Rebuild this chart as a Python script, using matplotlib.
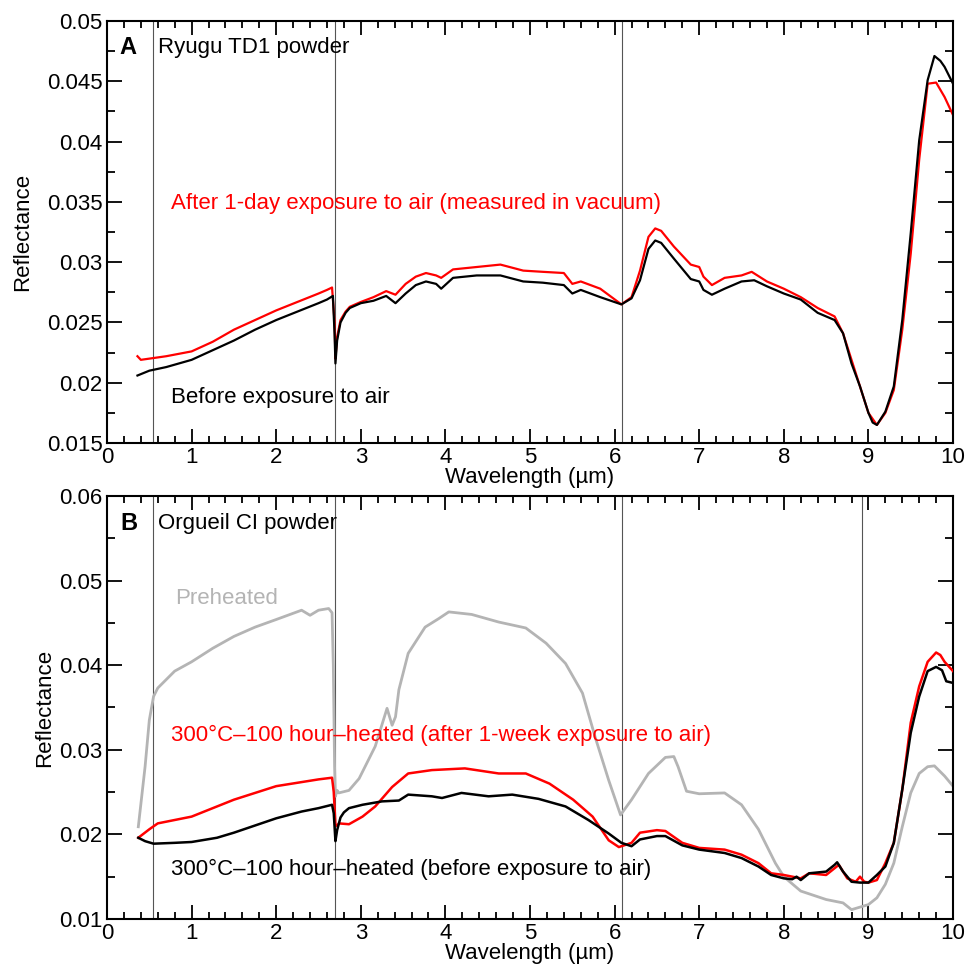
import matplotlib
matplotlib.use("Agg")
import matplotlib.pyplot as plt
from matplotlib.ticker import MultipleLocator, FuncFormatter

plt.rcParams['font.family'] = ['Liberation Sans', 'DejaVu Sans']

# ---- Panel A: Ryugu TD1 powder ----
wl_a_red = [0.36, 0.40, 0.50, 0.70, 1.00, 1.25, 1.50, 1.75, 2.00, 2.25, 2.50, 2.60, 2.66,
            2.69, 2.70, 2.72, 2.76, 2.82, 2.87, 3.00, 3.15, 3.30, 3.41, 3.53, 3.65, 3.77,
            3.89, 3.95, 4.09, 4.37, 4.65, 4.92, 5.15, 5.40, 5.50, 5.60, 5.83, 6.08, 6.20,
            6.30, 6.40, 6.48, 6.55, 6.70, 6.90, 7.00, 7.05, 7.15, 7.30, 7.50, 7.62, 7.80,
            8.00, 8.20, 8.40, 8.60, 8.70, 8.80, 8.90, 9.00, 9.10, 9.20, 9.30, 9.40, 9.50,
            9.60, 9.70, 9.80, 9.90, 10.0]
refl_a_red = [0.0222, 0.0219, 0.0220, 0.0222, 0.0226, 0.0234, 0.0244, 0.0252, 0.0260, 0.0267,
              0.0274, 0.0277, 0.0279, 0.0250, 0.0220, 0.0238, 0.0252, 0.0259, 0.0263, 0.0267,
              0.0271, 0.0276, 0.0273, 0.0282, 0.0288, 0.0291, 0.0289, 0.0287, 0.0294, 0.0296,
              0.0298, 0.0293, 0.0292, 0.0291, 0.0282, 0.0284, 0.0278, 0.0265, 0.0271, 0.0293,
              0.0321, 0.0328, 0.0326, 0.0313, 0.0298, 0.0296, 0.0288, 0.0281, 0.0287, 0.0289,
              0.0292, 0.0284, 0.0278, 0.0271, 0.0262, 0.0255, 0.0241, 0.0219, 0.0197, 0.0175,
              0.0165, 0.0175, 0.0194, 0.0244, 0.0307, 0.0385, 0.0448, 0.0449, 0.0437, 0.0422]

wl_a_black = [0.36, 0.50, 0.70, 1.00, 1.25, 1.50, 1.75, 2.00, 2.25, 2.50, 2.60, 2.67,
              2.69, 2.70, 2.72, 2.76, 2.82, 2.87, 3.00, 3.15, 3.30, 3.41, 3.53, 3.65, 3.77,
              3.89, 3.95, 4.09, 4.37, 4.65, 4.92, 5.15, 5.40, 5.50, 5.60, 5.83, 6.08, 6.20,
              6.30, 6.40, 6.48, 6.55, 6.70, 6.90, 7.00, 7.05, 7.15, 7.30, 7.50, 7.65, 7.80,
              8.00, 8.20, 8.40, 8.60, 8.70, 8.80, 8.90, 9.00, 9.05, 9.10, 9.20, 9.30, 9.40,
              9.50, 9.60, 9.70, 9.78, 9.85, 9.90, 10.0]
refl_a_black = [0.0206, 0.0210, 0.0213, 0.0219, 0.0227, 0.0235, 0.0244, 0.0252, 0.0259, 0.0266,
                0.0269, 0.0272, 0.0240, 0.0216, 0.0235, 0.0250, 0.0258, 0.0262, 0.0266, 0.0268,
                0.0272, 0.0266, 0.0274, 0.0281, 0.0284, 0.0282, 0.0278, 0.0287, 0.0289, 0.0289,
                0.0284, 0.0283, 0.0281, 0.0274, 0.0277, 0.0271, 0.0265, 0.0270, 0.0285, 0.0311,
                0.0318, 0.0316, 0.0303, 0.0286, 0.0284, 0.0277, 0.0273, 0.0278, 0.0284, 0.0285,
                0.0280, 0.0274, 0.0269, 0.0258, 0.0252, 0.0241, 0.0216, 0.0197, 0.0175, 0.0167,
                0.0165, 0.0176, 0.0197, 0.0252, 0.0324, 0.0401, 0.0451, 0.0471, 0.0467, 0.0462,
                0.0448]

# ---- Panel B: Orgueil CI powder ----
wl_b_gray = [0.37, 0.45, 0.50, 0.55, 0.60, 0.80, 1.00, 1.25, 1.50, 1.75, 2.00, 2.30, 2.40,
             2.50, 2.62, 2.66, 2.675, 2.69, 2.70, 2.72, 2.74, 2.86, 2.98, 3.17, 3.31, 3.37,
             3.41, 3.45, 3.56, 3.76, 3.92, 4.04, 4.31, 4.63, 4.95, 5.19, 5.42, 5.62, 5.77,
             5.93, 6.07, 6.20, 6.40, 6.60, 6.70, 6.75, 6.85, 7.00, 7.30, 7.50, 7.70, 7.90,
             8.00, 8.20, 8.50, 8.70, 8.80, 9.00, 9.10, 9.20, 9.30, 9.40, 9.50, 9.60, 9.70,
             9.78, 9.90, 10.0]
refl_b_gray = [0.0209, 0.0280, 0.0335, 0.0363, 0.0373, 0.0393, 0.0404, 0.0420, 0.0434, 0.0445,
               0.0454, 0.0465, 0.0459, 0.0465, 0.0467, 0.0462, 0.0400, 0.0280, 0.0245, 0.0252,
               0.0249, 0.0252, 0.0266, 0.0304, 0.0349, 0.0329, 0.0339, 0.0371, 0.0414, 0.0445,
               0.0455, 0.0463, 0.0460, 0.0451, 0.0444, 0.0426, 0.0402, 0.0367, 0.0315, 0.0264,
               0.0223, 0.0241, 0.0272, 0.0291, 0.0292, 0.0280, 0.0251, 0.0248, 0.0249, 0.0235,
               0.0206, 0.0166, 0.0150, 0.0133, 0.0123, 0.0119, 0.0111, 0.0117, 0.0125, 0.0141,
               0.0166, 0.0209, 0.0249, 0.0272, 0.0280, 0.0281, 0.0269, 0.0257]

wl_b_red = [0.37, 0.50, 0.60, 0.80, 1.00, 1.50, 2.00, 2.50, 2.66, 2.68, 2.70, 2.72, 2.74,
            2.86, 3.02, 3.17, 3.37, 3.56, 3.84, 4.23, 4.63, 4.95, 5.23, 5.51, 5.74, 5.93,
            6.05, 6.08, 6.20, 6.30, 6.50, 6.60, 6.80, 7.00, 7.30, 7.50, 7.70, 7.85, 8.00,
            8.10, 8.20, 8.30, 8.50, 8.60, 8.65, 8.75, 8.85, 8.90, 8.95, 9.00, 9.10, 9.20,
            9.30, 9.40, 9.50, 9.60, 9.70, 9.80, 9.85, 9.90, 10.0]
refl_b_red = [0.0196, 0.0206, 0.0213, 0.0217, 0.0221, 0.0241, 0.0257, 0.0265, 0.0267, 0.0250,
              0.0212, 0.0210, 0.0213, 0.0212, 0.0221, 0.0233, 0.0256, 0.0272, 0.0276, 0.0278,
              0.0272, 0.0272, 0.0260, 0.0241, 0.0221, 0.0193, 0.0185, 0.0186, 0.0190, 0.0202,
              0.0205, 0.0204, 0.0190, 0.0184, 0.0182, 0.0176, 0.0166, 0.0154, 0.0152, 0.0150,
              0.0148, 0.0154, 0.0152, 0.0160, 0.0164, 0.0148, 0.0144, 0.0150, 0.0144, 0.0143,
              0.0146, 0.0166, 0.0190, 0.0253, 0.0332, 0.0375, 0.0404, 0.0415, 0.0412, 0.0404,
              0.0393]

wl_b_black = [0.37, 0.45, 0.55, 0.80, 1.00, 1.30, 1.50, 2.00, 2.30, 2.50, 2.66, 2.68, 2.70,
              2.72, 2.76, 2.80, 2.86, 3.02, 3.25, 3.45, 3.56, 3.84, 3.96, 4.19, 4.51, 4.79,
              5.10, 5.42, 5.69, 5.93, 6.08, 6.20, 6.30, 6.50, 6.60, 6.80, 7.00, 7.30, 7.50,
              7.70, 7.85, 8.00, 8.10, 8.15, 8.20, 8.30, 8.50, 8.60, 8.63, 8.70, 8.80, 8.90,
              9.00, 9.10, 9.20, 9.30, 9.40, 9.50, 9.60, 9.70, 9.80, 9.87, 9.92, 10.0]
refl_b_black = [0.0196, 0.0192, 0.0189, 0.0190, 0.0191, 0.0196, 0.0202, 0.0219, 0.0227, 0.0231,
                0.0235, 0.0225, 0.0192, 0.0205, 0.0220, 0.0226, 0.0231, 0.0235, 0.0239, 0.0240,
                0.0247, 0.0245, 0.0243, 0.0249, 0.0245, 0.0247, 0.0242, 0.0233, 0.0217, 0.0201,
                0.0190, 0.0186, 0.0194, 0.0198, 0.0198, 0.0187, 0.0182, 0.0178, 0.0172, 0.0162,
                0.0152, 0.0148, 0.0147, 0.0150, 0.0146, 0.0154, 0.0156, 0.0164, 0.0167, 0.0156,
                0.0144, 0.0143, 0.0143, 0.0152, 0.0162, 0.0190, 0.0253, 0.0320, 0.0363, 0.0393,
                0.0398, 0.0394, 0.0381, 0.0379]

vlines_a = [0.54, 2.70, 6.09]
vlines_b = [0.54, 2.70, 6.09, 8.92]

RED = '#ff0000'
GRAY = '#b4b4b4'
FS = 16


def style_axis(ax, ylim, ymajor, yminor, ylabelpad):
    ax.set_xlim(0, 10)
    ax.set_ylim(*ylim)
    ax.xaxis.set_major_locator(MultipleLocator(1))
    ax.xaxis.set_minor_locator(MultipleLocator(0.2))
    ax.yaxis.set_major_locator(MultipleLocator(ymajor))
    ax.yaxis.set_minor_locator(MultipleLocator(yminor))
    ax.yaxis.set_major_formatter(FuncFormatter(lambda v, p: '%g' % round(v, 4)))
    ax.tick_params(which='both', direction='in', top=True, right=True,
                   labelsize=FS, width=1.3, pad=3)
    ax.tick_params(axis='x', which='major', length=10)
    ax.tick_params(axis='x', which='minor', length=5)
    ax.tick_params(axis='y', which='major', length=11)
    ax.tick_params(axis='y', which='minor', length=6)
    for s in ax.spines.values():
        s.set_linewidth(1.5)
    ax.set_xlabel('Wavelength (µm)', fontsize=FS, labelpad=-1)
    ax.set_ylabel('Reflectance', fontsize=FS, labelpad=ylabelpad)


fig = plt.figure(figsize=(9.71, 9.65), dpi=100)
ax_a = fig.add_axes([0.1102, 0.5409, 0.8713, 0.4373])
ax_b = fig.add_axes([0.1102, 0.0477, 0.8713, 0.4383])

# panel A
for x in vlines_a:
    ax_a.axvline(x, color='#555555', lw=0.8, zorder=1)
ax_a.plot(wl_a_red, refl_a_red, color=RED, lw=1.6, zorder=2)
ax_a.plot(wl_a_black, refl_a_black, color='black', lw=1.6, zorder=3)
style_axis(ax_a, (0.015, 0.05), 0.005, 0.0025, 10)
ax_a.text(0.15, 0.0478, 'A', fontsize=FS + 1, fontweight='bold', va='center')
ax_a.text(0.60, 0.0478, 'Ryugu TD1 powder', fontsize=FS, va='center')
ax_a.text(0.76, 0.0349, 'After 1-day exposure to air (measured in vacuum)',
          fontsize=FS, color=RED, va='center')
ax_a.text(0.76, 0.0188, 'Before exposure to air', fontsize=FS, va='center')

# panel B
for x in vlines_b:
    ax_b.axvline(x, color='#555555', lw=0.8, zorder=1)
ax_b.plot(wl_b_gray, refl_b_gray, color=GRAY, lw=2.0, zorder=2)
ax_b.plot(wl_b_red, refl_b_red, color=RED, lw=1.8, zorder=3)
ax_b.plot(wl_b_black, refl_b_black, color='black', lw=1.8, zorder=4)
style_axis(ax_b, (0.01, 0.06), 0.01, 0.005, 3)
ax_b.text(0.16, 0.0568, 'B', fontsize=FS + 1, fontweight='bold', va='center')
ax_b.text(0.60, 0.0568, 'Orgueil CI powder', fontsize=FS, va='center')
ax_b.text(0.80, 0.0479, 'Preheated', fontsize=FS, color=GRAY, va='center')
ax_b.text(0.76, 0.0317, '300°C–100 hour–heated (after 1-week exposure to air)',
          fontsize=FS, color=RED, va='center')
ax_b.text(0.76, 0.0159, '300°C–100 hour–heated (before exposure to air)',
          fontsize=FS, va='center')

fig.savefig('out.png', dpi=100)
